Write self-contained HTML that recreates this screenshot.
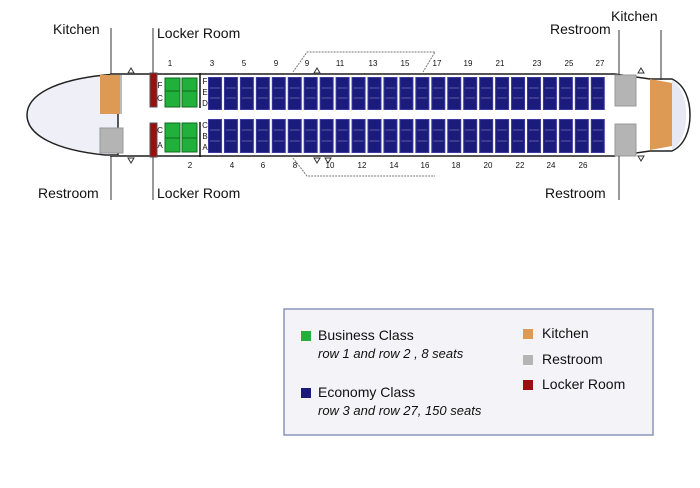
<!DOCTYPE html>
<html><head><meta charset="utf-8"><style>
html,body{margin:0;padding:0;background:#fff;width:700px;height:488px;overflow:hidden}
svg{display:block}
text{font-family:"Liberation Sans",sans-serif;fill:#111}
</style></head><body>
<svg width="700" height="488" viewBox="0 0 700 488" xmlns="http://www.w3.org/2000/svg">
<defs>
<pattern id="seat" x="208" y="0" width="15.95" height="200" patternUnits="userSpaceOnUse">
<rect x="0.5" y="77.5" width="13" height="32" fill="#1b1b7c" stroke="#3a3aa0"/>
<line x1="2" y1="88" x2="12" y2="88" stroke="#6b6bb0" stroke-width="0.8"/>
<line x1="2" y1="98" x2="12" y2="98" stroke="#6b6bb0" stroke-width="0.8"/>
<rect x="0.5" y="119.5" width="13" height="33" fill="#1b1b7c" stroke="#3a3aa0"/>
<line x1="2" y1="130" x2="12" y2="130" stroke="#6b6bb0" stroke-width="0.8"/>
<line x1="2" y1="141" x2="12" y2="141" stroke="#6b6bb0" stroke-width="0.8"/>
</pattern>
</defs>
<path d="M118,74 L105,75 C55,80 27,95 27,115 C27,135 55,150 105,155 L118,155 Z" fill="#efeff8" stroke="#222" stroke-width="1.5"/>
<line x1="110" y1="74" x2="615" y2="74" stroke="#555" stroke-width="2"/>
<line x1="110" y1="156" x2="615" y2="156" stroke="#555" stroke-width="2"/>
<path d="M615,74 L650,79 L672,79 C685,85 690,100 690,115 C690,130 685,145 672,151 L650,151 L615,156" fill="#fff" stroke="#222" stroke-width="1.5"/>
<path d="M672,80 C683,88 686,100 686,115 C686,130 683,142 672,150 Z" fill="#e6e8f4"/>
<path d="M650,79 L672,83 L672,146 L650,150 Z" fill="#dd9a55"/>
<rect x="100" y="75" width="21" height="39" fill="#dd9a55"/>
<line x1="121" y1="75" x2="121" y2="114" stroke="#bbb" stroke-width="2"/>
<rect x="100" y="128" width="23" height="25" fill="#b4b4b4" stroke="#999"/>
<rect x="615" y="75" width="21" height="31" fill="#b4b4b4" stroke="#999"/>
<rect x="615" y="124" width="21" height="32" fill="#b4b4b4" stroke="#999"/>
<rect x="150" y="73" width="7" height="34" fill="#9a1010" stroke="#555"/>
<rect x="150" y="123" width="7" height="34" fill="#9a1010" stroke="#555"/>
<g fill="#22b03c" stroke="#0c6a1c">
<rect x="165" y="78" width="15" height="13"/><rect x="165" y="91" width="15" height="16"/>
<rect x="182" y="78" width="15" height="13"/><rect x="182" y="91" width="15" height="16"/>
<rect x="165" y="123" width="15" height="15"/><rect x="165" y="138" width="15" height="14"/>
<rect x="182" y="123" width="15" height="15"/><rect x="182" y="138" width="15" height="14"/>
</g>
<line x1="200" y1="73" x2="200" y2="108" stroke="#111" stroke-width="1.5"/>
<line x1="200" y1="122" x2="200" y2="157" stroke="#111" stroke-width="1.5"/>
<g font-size="8" text-anchor="middle">
<text x="160" y="88">F</text><text x="160" y="101">C</text>
<text x="160" y="133">C</text><text x="160" y="148">A</text>
<text x="205" y="84">F</text><text x="205" y="95">E</text><text x="205" y="106">D</text>
<text x="205" y="128">C</text><text x="205" y="139">B</text><text x="205" y="150">A</text>
</g>
<rect x="208" y="70" width="398" height="90" fill="url(#seat)"/>
<g fill="none" stroke="#777" stroke-width="1" stroke-dasharray="2,1">
<path d="M293,72 L307,52 L435,52 L423,72"/>
<path d="M293,158 L307,176 L435,176"/>
</g>
<g fill="#fff" stroke="#333" stroke-width="1">
<path d="M128,73 L131,68 L134,73 Z"/><path d="M128,158 L131,163 L134,158 Z"/>
<path d="M314,73 L317,68 L320,73 Z"/><path d="M314,158 L317,163 L320,158 Z"/>
<path d="M325,158 L328,163 L331,158 Z"/>
<path d="M638,73 L641,68 L644,73 Z"/><path d="M638,156 L641,161 L644,156 Z"/>
</g>
<g font-size="8" text-anchor="middle">
<text x="170" y="66">1</text><text x="212" y="66">3</text><text x="244" y="66">5</text><text x="276" y="66">9</text><text x="307" y="66">9</text><text x="340" y="66">11</text><text x="373" y="66">13</text><text x="405" y="66">15</text><text x="437" y="66">17</text><text x="468" y="66">19</text><text x="500" y="66">21</text><text x="537" y="66">23</text><text x="569" y="66">25</text><text x="600" y="66">27</text>
<text x="190" y="168">2</text><text x="232" y="168">4</text><text x="263" y="168">6</text><text x="295" y="168">8</text><text x="330" y="168">10</text><text x="362" y="168">12</text><text x="394" y="168">14</text><text x="425" y="168">16</text><text x="456" y="168">18</text><text x="488" y="168">20</text><text x="520" y="168">22</text><text x="551" y="168">24</text><text x="583" y="168">26</text>
</g>
<g stroke="#333" stroke-width="1">
<line x1="111" y1="28" x2="111" y2="74"/>
<line x1="111" y1="156" x2="111" y2="200"/>
<line x1="153" y1="28" x2="153" y2="73"/>
<line x1="153" y1="157" x2="153" y2="200"/>
<line x1="619" y1="30" x2="619" y2="75"/>
<line x1="619" y1="156" x2="619" y2="200"/>
<line x1="661" y1="30" x2="661" y2="80"/>
</g>
<g font-size="14">
<text x="53" y="34">Kitchen</text>
<text x="157" y="38">Locker Room</text>
<text x="38" y="198">Restroom</text>
<text x="157" y="198">Locker Room</text>
<text x="550" y="34">Restroom</text>
<text x="611" y="21">Kitchen</text>
<text x="545" y="198">Restroom</text>
</g>
<rect x="284" y="309" width="369" height="126" fill="#f3f3f8" stroke="#8a95b8" stroke-width="1.5"/>
<rect x="301" y="331" width="10" height="10" fill="#22b03c"/>
<rect x="301" y="388" width="10" height="10" fill="#1b1b7c"/>
<rect x="523" y="329" width="10" height="10" fill="#dd9a55"/>
<rect x="523" y="355" width="10" height="10" fill="#b4b4b4"/>
<rect x="523" y="380" width="10" height="10" fill="#9a1010"/>
<g font-size="14">
<text x="318" y="340">Business Class</text>
<text x="318" y="397">Economy Class</text>
<text x="542" y="338">Kitchen</text>
<text x="542" y="364">Restroom</text>
<text x="542" y="389">Locker Room</text>
</g>
<g font-size="13" font-style="italic">
<text x="318" y="358">row 1 and  row 2 , 8 seats</text>
<text x="318" y="415">row 3 and row 27, 150 seats</text>
</g>
</svg>
</body></html>
